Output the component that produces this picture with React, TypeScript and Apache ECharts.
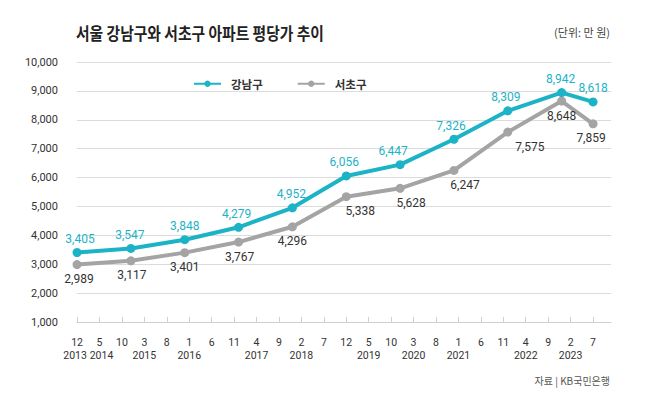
import React, { useEffect, useRef } from 'react';
import * as echarts from 'echarts';

// ---- data ----
const dates = ['2013-12', '2014-12', '2015-12', '2016-12', '2017-12', '2018-12', '2019-12', '2020-12', '2021-12', '2022-12', '2023-07'];
const gangnam = [3405, 3547, 3848, 4279, 4952, 6056, 6447, 7326, 8309, 8942, 8618];
const seocho = [2989, 3117, 3401, 3767, 4296, 5338, 5628, 6247, 7575, 8648, 7859];
const tickMonths = [12, 5, 10, 3, 8, 1, 6, 11, 4, 9, 2, 7, 12, 5, 10, 3, 8, 1, 6, 11, 4, 9, 2, 7];
const tickYears = ['2013', '2014', '', '2015', '', '2016', '', '', '2017', '', '2018', '', '', '2019', '', '2020', '', '2021', '', '', '2022', '', '2023', ''];
const seriesNames = ['강남구', '서초구'];
const titleText = '서울 강남구와 서초구 아파트 평당가 추이';
const unitText = '(단위: 만 원)';
const sourceText = '자료 | KB국민은행';

// ---- styles ----
const TEAL = '#1db3c6';
const GRAY = '#a4a4a4';
const gangnamLabelShift = [3, -1, 0, -2, -1, -2, -7, -3, -2, -1, 0];
const seochoLabelShift = [2, 1, 0, 1, 0, 14, 11, 11, 22, 0, -2];
const FONT = 'Roboto, "Noto Sans CJK KR", sans-serif';

const START_Y = 2013;
const START_M = 12;
const monthOffset = (d: string) => {
  const [y, m] = d.split('-').map(Number);
  return (y - START_Y) * 12 + (m - START_M);
};
const TICK_STEP = 5;
const AXIS_MIN = -0.01; // tiny lead-in so the first real label is not treated as the "min label"
const tickValues = tickMonths.map((_, i) => i * TICK_STEP);

export default function App() {
  const ref = useRef<HTMLDivElement>(null);
  useEffect(() => {
    if (!ref.current) return;
    const chart = echarts.init(ref.current, null, { renderer: 'svg' });
    chart.setOption({
      animation: false,
      textStyle: { fontFamily: FONT },
      grid: { left: 77, right: 39, top: 62, bottom: 71 },
      graphic: [
        {
          type: 'text',
          x: 76,
          y: 33,
          scaleX: 0.87,
          style: {
            text: titleText,
            font: 'bold 17px "Noto Sans CJK KR"',
            fill: '#222',
            verticalAlign: 'middle',
            align: 'left',
          },
        },
        {
          type: 'text',
          x: 610,
          y: 32,
          style: {
            text: unitText,
            font: '11px "Noto Sans CJK KR"',
            fill: '#444',
            verticalAlign: 'middle',
            align: 'right',
          },
        },
        {
          type: 'text',
          x: 610,
          y: 380,
          style: {
            text: sourceText,
            font: '10px "Noto Sans CJK KR"',
            fill: '#555',
            verticalAlign: 'middle',
            align: 'right',
          },
        },
      ],
      legend: {
        left: 188,
        top: 73,
        itemWidth: 27,
        itemHeight: 8,
        itemGap: 34,
        textStyle: { fontFamily: '"Noto Sans CJK KR"', fontSize: 11.5, fontWeight: 'bold', color: '#333', padding: [0, 0, 0, 5] },
        data: seriesNames,
      },
      xAxis: {
        type: 'value',
        min: AXIS_MIN,
        max: 119,
        axisLine: { show: true, lineStyle: { color: '#cfcfcf', width: 1 } },
        axisTick: { show: true, inside: true, length: 5, lineStyle: { color: '#cfcfcf' }, customValues: [AXIS_MIN, ...tickValues] },
        splitLine: { show: false },
        axisLabel: {
          customValues: [AXIS_MIN, ...tickValues],
          hideOverlap: false,
          margin: 14,
          color: '#333',
          rich: {
            m: { fontSize: 10.5, lineHeight: 13, color: '#333' },
            y: { fontSize: 10.5, lineHeight: 13, color: '#333' },
            yL: { fontSize: 10.5, lineHeight: 13, color: '#333', padding: [0, 4, 0, 0] },
            yR: { fontSize: 10.5, lineHeight: 13, color: '#333', padding: [0, 0, 0, 4] },
          },
          formatter: (v: number) => {
            if (v < 0) return '';
            const i = Math.round(v / TICK_STEP);
            const yr = tickYears[i];
            const key = i === 0 ? 'yL' : i === 1 ? 'yR' : 'y';
            return `{m|${tickMonths[i]}}` + (yr ? `\n{${key}|${yr}}` : '');
          },
        },
      },
      yAxis: {
        type: 'value',
        min: 1000,
        max: 10000,
        interval: 1000,
        axisLine: { show: false },
        axisTick: { show: false },
        splitLine: { lineStyle: { color: '#dcdcdc', width: 1 } },
        axisLabel: {
          margin: 19,
          fontSize: 11,
          color: '#333',
          formatter: (v: number) => v.toLocaleString('en-US'),
        },
      },
      series: [
        {
          name: seriesNames[0],
          type: 'line',
          z: 3,
          symbol: 'circle',
          symbolSize: 9,
          color: TEAL,
          lineStyle: { width: 4, color: TEAL },
          itemStyle: { color: TEAL },
          label: {
            show: true,
            position: 'top',
            distance: 3,
            fontSize: 12,
            color: TEAL,
            formatter: (p: any) => p.value[1].toLocaleString('en-US'),
          },
          data: dates.map((d, i) => ({
            value: [monthOffset(d), gangnam[i]],
            label: { offset: [gangnamLabelShift[i], 0] },
          })),
        },
        {
          name: seriesNames[1],
          type: 'line',
          z: 2,
          symbol: 'circle',
          symbolSize: 9,
          color: GRAY,
          lineStyle: { width: 4, color: GRAY },
          itemStyle: { color: GRAY },
          label: {
            show: true,
            position: 'bottom',
            distance: 4,
            fontSize: 12,
            color: '#333',
            formatter: (p: any) => p.value[1].toLocaleString('en-US'),
          },
          data: dates.map((d, i) => ({
            value: [monthOffset(d), seocho[i]],
            label: { offset: [seochoLabelShift[i], 0] },
          })),
        },
      ],
    });
    return () => chart.dispose();
  }, []);
  return <div ref={ref} style={{ width: 650, height: 393, position: 'absolute', left: 0, top: 0 }} />;
}
